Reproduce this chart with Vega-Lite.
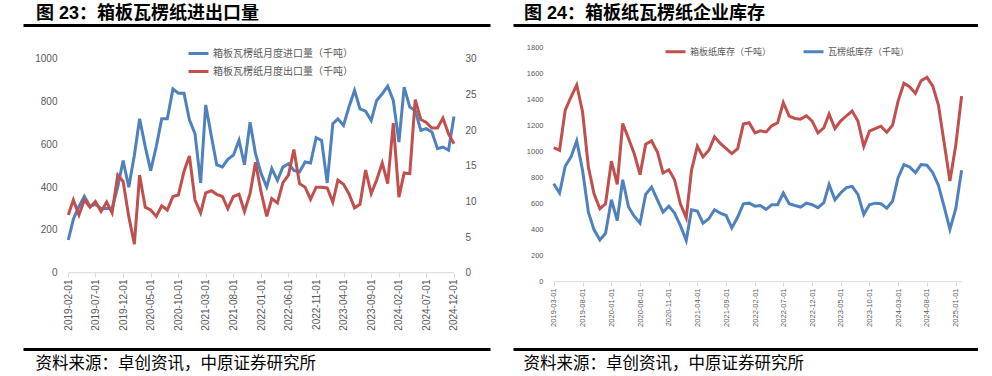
{
  "$schema": "https://vega.github.io/schema/vega-lite/v6.json",
  "padding": {"left": 23, "top": 5, "right": 0, "bottom": 4},
  "spacing": 23,
  "bounds": "flush",
  "resolve": {"scale": {"color": "independent"}},
  "config": {
    "view": {"stroke": null},
    "font": "Liberation Sans",
    "axis": {"grid": false}
  },
  "datasets": {
    "trade": [
      {"d": "2019-02-01", "imp": 153, "exp": 8.1},
      {"d": "2019-03-01", "imp": 250, "exp": 10.2},
      {"d": "2019-04-01", "imp": 310, "exp": 8.1},
      {"d": "2019-05-01", "imp": 357, "exp": 10.2},
      {"d": "2019-06-01", "imp": 310, "exp": 9.2},
      {"d": "2019-07-01", "imp": 320, "exp": 10.0},
      {"d": "2019-08-01", "imp": 300, "exp": 8.6},
      {"d": "2019-09-01", "imp": 300, "exp": 9.9},
      {"d": "2019-10-01", "imp": 300, "exp": 8.4},
      {"d": "2019-11-01", "imp": 400, "exp": 13.7},
      {"d": "2019-12-01", "imp": 525, "exp": 12.8},
      {"d": "2020-01-01", "imp": 400, "exp": 7.9},
      {"d": "2020-02-01", "imp": 550, "exp": 4.0},
      {"d": "2020-03-01", "imp": 720, "exp": 13.7},
      {"d": "2020-04-01", "imp": 590, "exp": 9.2},
      {"d": "2020-05-01", "imp": 478, "exp": 8.8},
      {"d": "2020-06-01", "imp": 590, "exp": 7.9},
      {"d": "2020-07-01", "imp": 720, "exp": 9.4},
      {"d": "2020-08-01", "imp": 720, "exp": 8.8},
      {"d": "2020-09-01", "imp": 860, "exp": 10.7},
      {"d": "2020-10-01", "imp": 840, "exp": 10.9},
      {"d": "2020-11-01", "imp": 840, "exp": 14.2},
      {"d": "2020-12-01", "imp": 715, "exp": 16.4},
      {"d": "2021-01-01", "imp": 650, "exp": 10.2},
      {"d": "2021-02-01", "imp": 420, "exp": 8.4},
      {"d": "2021-03-01", "imp": 785, "exp": 11.2},
      {"d": "2021-04-01", "imp": 640, "exp": 11.5},
      {"d": "2021-05-01", "imp": 505, "exp": 11.0},
      {"d": "2021-06-01", "imp": 495, "exp": 10.7},
      {"d": "2021-07-01", "imp": 530, "exp": 9.0},
      {"d": "2021-08-01", "imp": 550, "exp": 10.7},
      {"d": "2021-09-01", "imp": 620, "exp": 11.0},
      {"d": "2021-10-01", "imp": 505, "exp": 8.6},
      {"d": "2021-11-01", "imp": 704, "exp": 11.1},
      {"d": "2021-12-01", "imp": 557, "exp": 15.5},
      {"d": "2022-01-01", "imp": 464, "exp": 11.3},
      {"d": "2022-02-01", "imp": 401, "exp": 7.9},
      {"d": "2022-03-01", "imp": 487, "exp": 10.4},
      {"d": "2022-04-01", "imp": 432, "exp": 9.8},
      {"d": "2022-05-01", "imp": 494, "exp": 12.6},
      {"d": "2022-06-01", "imp": 510, "exp": 13.7},
      {"d": "2022-07-01", "imp": 479, "exp": 17.3},
      {"d": "2022-08-01", "imp": 471, "exp": 12.5},
      {"d": "2022-09-01", "imp": 518, "exp": 12.0},
      {"d": "2022-10-01", "imp": 513, "exp": 10.3},
      {"d": "2022-11-01", "imp": 632, "exp": 12.0},
      {"d": "2022-12-01", "imp": 619, "exp": 12.0},
      {"d": "2023-01-01", "imp": 420, "exp": 11.9},
      {"d": "2023-02-01", "imp": 697, "exp": 9.9},
      {"d": "2023-03-01", "imp": 720, "exp": 13.0},
      {"d": "2023-04-01", "imp": 689, "exp": 12.4},
      {"d": "2023-05-01", "imp": 775, "exp": 11.1},
      {"d": "2023-06-01", "imp": 853, "exp": 9.1},
      {"d": "2023-07-01", "imp": 767, "exp": 9.6},
      {"d": "2023-08-01", "imp": 756, "exp": 14.4},
      {"d": "2023-09-01", "imp": 712, "exp": 11.1},
      {"d": "2023-10-01", "imp": 806, "exp": 13.0},
      {"d": "2023-11-01", "imp": 837, "exp": 15.4},
      {"d": "2023-12-01", "imp": 873, "exp": 12.5},
      {"d": "2024-01-01", "imp": 806, "exp": 21.0},
      {"d": "2024-02-01", "imp": 611, "exp": 10.6},
      {"d": "2024-03-01", "imp": 868, "exp": 14.0},
      {"d": "2024-04-01", "imp": 775, "exp": 13.9},
      {"d": "2024-05-01", "imp": 759, "exp": 24.3},
      {"d": "2024-06-01", "imp": 666, "exp": 21.5},
      {"d": "2024-07-01", "imp": 674, "exp": 21.1},
      {"d": "2024-08-01", "imp": 658, "exp": 20.3},
      {"d": "2024-09-01", "imp": 580, "exp": 20.3},
      {"d": "2024-10-01", "imp": 588, "exp": 21.7},
      {"d": "2024-11-01", "imp": 573, "exp": 19.5},
      {"d": "2024-12-01", "imp": 731, "exp": 18.1}
    ],
    "stock": [
      {"d": "2019-03-01", "box": 1030, "corr": 752},
      {"d": "2019-04-01", "box": 1009, "corr": 681},
      {"d": "2019-05-01", "box": 1317, "corr": 886},
      {"d": "2019-06-01", "box": 1420, "corr": 958},
      {"d": "2019-07-01", "box": 1510, "corr": 1081},
      {"d": "2019-08-01", "box": 1305, "corr": 855},
      {"d": "2019-09-01", "box": 881, "corr": 534},
      {"d": "2019-10-01", "box": 675, "corr": 398},
      {"d": "2019-11-01", "box": 560, "corr": 321},
      {"d": "2019-12-01", "box": 598, "corr": 372},
      {"d": "2020-01-01", "box": 925, "corr": 629},
      {"d": "2020-02-01", "box": 747, "corr": 470},
      {"d": "2020-03-01", "box": 1215, "corr": 783},
      {"d": "2020-04-01", "box": 1099, "corr": 573},
      {"d": "2020-05-01", "box": 984, "corr": 503},
      {"d": "2020-06-01", "box": 822, "corr": 449},
      {"d": "2020-07-01", "box": 1055, "corr": 670},
      {"d": "2020-08-01", "box": 1081, "corr": 727},
      {"d": "2020-09-01", "box": 996, "corr": 629},
      {"d": "2020-10-01", "box": 835, "corr": 534},
      {"d": "2020-11-01", "box": 860, "corr": 580},
      {"d": "2020-12-01", "box": 783, "corr": 526},
      {"d": "2021-01-01", "box": 598, "corr": 431},
      {"d": "2021-02-01", "box": 491, "corr": 316},
      {"d": "2021-03-01", "box": 855, "corr": 552},
      {"d": "2021-04-01", "box": 1040, "corr": 542},
      {"d": "2021-05-01", "box": 958, "corr": 449},
      {"d": "2021-06-01", "box": 1009, "corr": 483},
      {"d": "2021-07-01", "box": 1112, "corr": 552},
      {"d": "2021-08-01", "box": 1061, "corr": 526},
      {"d": "2021-09-01", "box": 1022, "corr": 508},
      {"d": "2021-10-01", "box": 984, "corr": 413},
      {"d": "2021-11-01", "box": 1022, "corr": 496},
      {"d": "2021-12-01", "box": 1210, "corr": 598},
      {"d": "2022-01-01", "box": 1220, "corr": 603},
      {"d": "2022-02-01", "box": 1143, "corr": 580},
      {"d": "2022-03-01", "box": 1158, "corr": 585},
      {"d": "2022-04-01", "box": 1150, "corr": 555},
      {"d": "2022-05-01", "box": 1197, "corr": 591},
      {"d": "2022-06-01", "box": 1220, "corr": 591},
      {"d": "2022-07-01", "box": 1376, "corr": 681},
      {"d": "2022-08-01", "box": 1271, "corr": 598},
      {"d": "2022-09-01", "box": 1253, "corr": 585},
      {"d": "2022-10-01", "box": 1248, "corr": 573},
      {"d": "2022-11-01", "box": 1274, "corr": 603},
      {"d": "2022-12-01", "box": 1233, "corr": 591},
      {"d": "2023-01-01", "box": 1143, "corr": 568},
      {"d": "2023-02-01", "box": 1181, "corr": 606},
      {"d": "2023-03-01", "box": 1287, "corr": 747},
      {"d": "2023-04-01", "box": 1176, "corr": 629},
      {"d": "2023-05-01", "box": 1233, "corr": 681},
      {"d": "2023-06-01", "box": 1274, "corr": 722},
      {"d": "2023-07-01", "box": 1310, "corr": 732},
      {"d": "2023-08-01", "box": 1233, "corr": 670},
      {"d": "2023-09-01", "box": 1040, "corr": 516},
      {"d": "2023-10-01", "box": 1156, "corr": 591},
      {"d": "2023-11-01", "box": 1176, "corr": 603},
      {"d": "2023-12-01", "box": 1194, "corr": 598},
      {"d": "2024-01-01", "box": 1148, "corr": 565},
      {"d": "2024-02-01", "box": 1202, "corr": 619},
      {"d": "2024-03-01", "box": 1387, "corr": 799},
      {"d": "2024-04-01", "box": 1523, "corr": 899},
      {"d": "2024-05-01", "box": 1497, "corr": 881},
      {"d": "2024-06-01", "box": 1446, "corr": 837},
      {"d": "2024-07-01", "box": 1543, "corr": 899},
      {"d": "2024-08-01", "box": 1569, "corr": 894},
      {"d": "2024-09-01", "box": 1502, "corr": 837},
      {"d": "2024-10-01", "box": 1356, "corr": 740},
      {"d": "2024-11-01", "box": 1061, "corr": 573},
      {"d": "2024-12-01", "box": 773, "corr": 401},
      {"d": "2025-01-01", "box": 1048, "corr": 560},
      {"d": "2025-02-01", "box": 1425, "corr": 855}
    ]
  },
  "hconcat": [
    {
      "width": 467,
      "height": 324,
      "title": {"text": "图 23：箱板瓦楞纸进出口量", "anchor": "start", "dx": 13, "offset": 2, "fontSize": 18, "font": "Liberation Sans, Noto Sans CJK SC", "fontWeight": "bold", "color": "#000000"},
      "data": {"name": "trade"},
      "resolve": {"scale": {"y": "independent"}, "axis": {"x": "independent"}},
      "layer": [
        {
          "mark": {"type": "rule", "color": "#d9d9d9", "strokeWidth": 1},
          "encoding": {
            "x": {"field": "d", "type": "temporal", "aggregate": "min",
              "scale": {"type": "utc", "domain": [{"year": 2018, "month": 5, "date": 27, "utc": true}, {"year": 2025, "month": 6, "date": 18, "utc": true}]},
              "axis": {"orient": "bottom", "domain": true, "domainColor": "#000000", "domainWidth": 3, "ticks": false, "labels": false, "grid": false,
                "title": "资料来源：卓创资讯，中原证券研究所", "titleFont": "Noto Sans CJK SC", "titleFontSize": 16.5, "titleFontWeight": "normal", "titleColor": "#000000",
                "titleAnchor": "start", "titleAlign": "left", "titleX": 12, "titleY": 14, "titleBaseline": "middle"}},
            "x2": {"field": "d", "aggregate": "max"},
            "y": {"datum": 0, "type": "quantitative", "scale": {"domain": [-357, 1159], "nice": false, "zero": false}, "axis": null}
          }
        },
        {
          "mark": {"type": "line", "strokeWidth": 3},
          "encoding": {
            "x": {"field": "d", "type": "temporal",
              "scale": {"type": "utc", "domain": [{"year": 2018, "month": 5, "date": 27, "utc": true}, {"year": 2025, "month": 6, "date": 18, "utc": true}]},
              "axis": {"orient": "bottom", "offset": -76, "domain": false, "ticks": true, "tickColor": "#d9d9d9", "tickSize": 4,
                "values": [
                  {"year": 2019, "month": 2, "date": 1, "utc": true},
                  {"year": 2019, "month": 7, "date": 1, "utc": true},
                  {"year": 2019, "month": 12, "date": 1, "utc": true},
                  {"year": 2020, "month": 5, "date": 1, "utc": true},
                  {"year": 2020, "month": 10, "date": 1, "utc": true},
                  {"year": 2021, "month": 3, "date": 1, "utc": true},
                  {"year": 2021, "month": 8, "date": 1, "utc": true},
                  {"year": 2022, "month": 1, "date": 1, "utc": true},
                  {"year": 2022, "month": 6, "date": 1, "utc": true},
                  {"year": 2022, "month": 11, "date": 1, "utc": true},
                  {"year": 2023, "month": 4, "date": 1, "utc": true},
                  {"year": 2023, "month": 9, "date": 1, "utc": true},
                  {"year": 2024, "month": 2, "date": 1, "utc": true},
                  {"year": 2024, "month": 7, "date": 1, "utc": true},
                  {"year": 2024, "month": 12, "date": 1, "utc": true}
                ],
                "labelExpr": "utcFormat(datum.value, '%Y-%m-%d')", "labelAngle": -90, "labelFont": "Liberation Sans", "labelFontSize": 10, "labelColor": "#595959",
                "labelPadding": 2, "labelOverlap": false, "labelBound": false, "labelFlush": false, "grid": false, "title": null}},
            "y": {"field": "imp", "type": "quantitative", "scale": {"domain": [-357, 1159], "nice": false, "zero": false},
              "axis": {"orient": "left", "offset": -42, "domain": false, "ticks": false, "values": [0, 200, 400, 600, 800, 1000], "format": "d", "labelOverlap": false,
                "labelFont": "Liberation Sans", "labelFontSize": 10, "labelColor": "#595959", "labelPadding": 8, "grid": false, "title": null}},
            "color": {"datum": "箱板瓦楞纸月度进口量（千吨）",
              "scale": {"domain": ["箱板瓦楞纸月度进口量（千吨）", "箱板瓦楞纸月度出口量（千吨）"], "range": ["#4F81BD", "#C0504D"]},
              "legend": {"orient": "none", "legendX": 164, "legendY": 17, "direction": "vertical", "title": null, "padding": 0,
                "symbolType": "stroke", "symbolSize": 400, "symbolStrokeWidth": 3, "labelFont": "Noto Sans CJK SC", "labelFontSize": 10,
                "labelColor": "#595959", "rowPadding": -4, "labelOffset": 3}}
          }
        },
        {
          "mark": {"type": "line", "strokeWidth": 3},
          "encoding": {
            "x": {"field": "d", "type": "temporal",
              "scale": {"type": "utc", "domain": [{"year": 2018, "month": 5, "date": 27, "utc": true}, {"year": 2025, "month": 6, "date": 18, "utc": true}]},
              "axis": {"orient": "top", "domain": true, "domainColor": "#000000", "domainWidth": 3, "ticks": false, "labels": false, "grid": false, "title": null}},
            "y": {"field": "exp", "type": "quantitative", "scale": {"domain": [-10.71, 34.77], "nice": false, "zero": false},
              "axis": {"orient": "right", "offset": -31, "domain": false, "ticks": false, "values": [0, 5, 10, 15, 20, 25, 30], "format": "d", "labelOverlap": false,
                "labelFont": "Liberation Sans", "labelFontSize": 10, "labelColor": "#595959", "labelPadding": 6, "grid": false, "title": null}},
            "color": {"datum": "箱板瓦楞纸月度出口量（千吨）"}
          }
        }
      ]
    },
    {
      "width": 465,
      "height": 324,
      "title": {"text": "图 24：箱板纸瓦楞纸企业库存", "anchor": "start", "dx": 11, "offset": 2, "fontSize": 18, "font": "Liberation Sans, Noto Sans CJK SC", "fontWeight": "bold", "color": "#000000"},
      "data": {"name": "stock"},
      "resolve": {"axis": {"x": "independent"}},
      "layer": [
        {
          "mark": {"type": "rule", "color": "#d9d9d9", "strokeWidth": 1},
          "encoding": {
            "x": {"field": "d", "type": "temporal", "aggregate": "min",
              "scale": {"type": "utc", "domain": [{"year": 2018, "month": 7, "date": 28, "utc": true}, {"year": 2025, "month": 4, "date": 29, "utc": true}]},
              "axis": {"orient": "bottom", "domain": true, "domainColor": "#000000", "domainWidth": 3, "ticks": false, "labels": false, "grid": false,
                "title": "资料来源：卓创资讯，中原证券研究所", "titleFont": "Noto Sans CJK SC", "titleFontSize": 16.5, "titleFontWeight": "normal", "titleColor": "#000000",
                "titleAnchor": "start", "titleAlign": "left", "titleX": 10, "titleY": 14, "titleBaseline": "middle"}},
            "x2": {"field": "d", "aggregate": "max"},
            "y": {"datum": 0, "type": "quantitative", "scale": {"domain": [-517, 1971], "nice": false, "zero": false},
              "axis": {"orient": "left", "offset": -37, "domain": false, "ticks": false, "values": [0, 200, 400, 600, 800, 1000, 1200, 1400, 1600, 1800], "format": "d", "labelOverlap": false,
                "labelFont": "Liberation Sans", "labelFontSize": 7.5, "labelColor": "#595959", "labelPadding": 7, "grid": false, "title": null}}
          }
        },
        {
          "mark": {"type": "line", "strokeWidth": 3},
          "encoding": {
            "x": {"field": "d", "type": "temporal",
              "scale": {"type": "utc", "domain": [{"year": 2018, "month": 7, "date": 28, "utc": true}, {"year": 2025, "month": 4, "date": 29, "utc": true}]},
              "axis": {"orient": "bottom", "offset": -67, "domain": false, "ticks": true, "tickColor": "#d9d9d9", "tickSize": 4,
                "values": [
                  {"year": 2019, "month": 3, "date": 1, "utc": true},
                  {"year": 2019, "month": 8, "date": 1, "utc": true},
                  {"year": 2020, "month": 1, "date": 1, "utc": true},
                  {"year": 2020, "month": 6, "date": 1, "utc": true},
                  {"year": 2020, "month": 11, "date": 1, "utc": true},
                  {"year": 2021, "month": 4, "date": 1, "utc": true},
                  {"year": 2021, "month": 9, "date": 1, "utc": true},
                  {"year": 2022, "month": 2, "date": 1, "utc": true},
                  {"year": 2022, "month": 7, "date": 1, "utc": true},
                  {"year": 2022, "month": 12, "date": 1, "utc": true},
                  {"year": 2023, "month": 5, "date": 1, "utc": true},
                  {"year": 2023, "month": 10, "date": 1, "utc": true},
                  {"year": 2024, "month": 3, "date": 1, "utc": true},
                  {"year": 2024, "month": 8, "date": 1, "utc": true},
                  {"year": 2025, "month": 1, "date": 1, "utc": true}
                ],
                "labelExpr": "utcFormat(datum.value, '%Y-%m-%d')", "labelAngle": -90, "labelFont": "Liberation Sans", "labelFontSize": 7.5, "labelColor": "#595959",
                "labelPadding": 2, "labelOverlap": false, "labelBound": false, "labelFlush": false, "grid": false, "title": null}},
            "y": {"field": "box", "type": "quantitative", "scale": {"domain": [-517, 1971], "nice": false, "zero": false},
              "axis": {"orient": "left", "offset": -37, "domain": false, "ticks": false, "values": [0, 200, 400, 600, 800, 1000, 1200, 1400, 1600, 1800], "format": "d", "labelOverlap": false,
                "labelFont": "Liberation Sans", "labelFontSize": 7.5, "labelColor": "#595959", "labelPadding": 7, "grid": false, "title": null}},
            "color": {"datum": "箱板纸库存（千吨）",
              "scale": {"domain": ["箱板纸库存（千吨）", "瓦楞纸库存（千吨）"], "range": ["#C0504D", "#4F81BD"]},
              "legend": {"orient": "none", "legendX": 151, "legendY": 15, "direction": "horizontal", "title": null, "padding": 0,
                "symbolType": "stroke", "symbolSize": 400, "symbolStrokeWidth": 3, "labelFont": "Noto Sans CJK SC", "labelFontSize": 9,
                "labelColor": "#595959", "columnPadding": 25, "labelOffset": 3}}
          }
        },
        {
          "mark": {"type": "line", "strokeWidth": 3},
          "encoding": {
            "x": {"field": "d", "type": "temporal",
              "scale": {"type": "utc", "domain": [{"year": 2018, "month": 7, "date": 28, "utc": true}, {"year": 2025, "month": 4, "date": 29, "utc": true}]},
              "axis": {"orient": "top", "domain": true, "domainColor": "#000000", "domainWidth": 3, "ticks": false, "labels": false, "grid": false, "title": null}},
            "y": {"field": "corr", "type": "quantitative", "scale": {"domain": [-517, 1971], "nice": false, "zero": false},
              "axis": {"orient": "left", "offset": -37, "domain": false, "ticks": false, "values": [0, 200, 400, 600, 800, 1000, 1200, 1400, 1600, 1800], "format": "d", "labelOverlap": false,
                "labelFont": "Liberation Sans", "labelFontSize": 7.5, "labelColor": "#595959", "labelPadding": 7, "grid": false, "title": null}},
            "color": {"datum": "瓦楞纸库存（千吨）"}
          }
        }
      ]
    }
  ]
}
